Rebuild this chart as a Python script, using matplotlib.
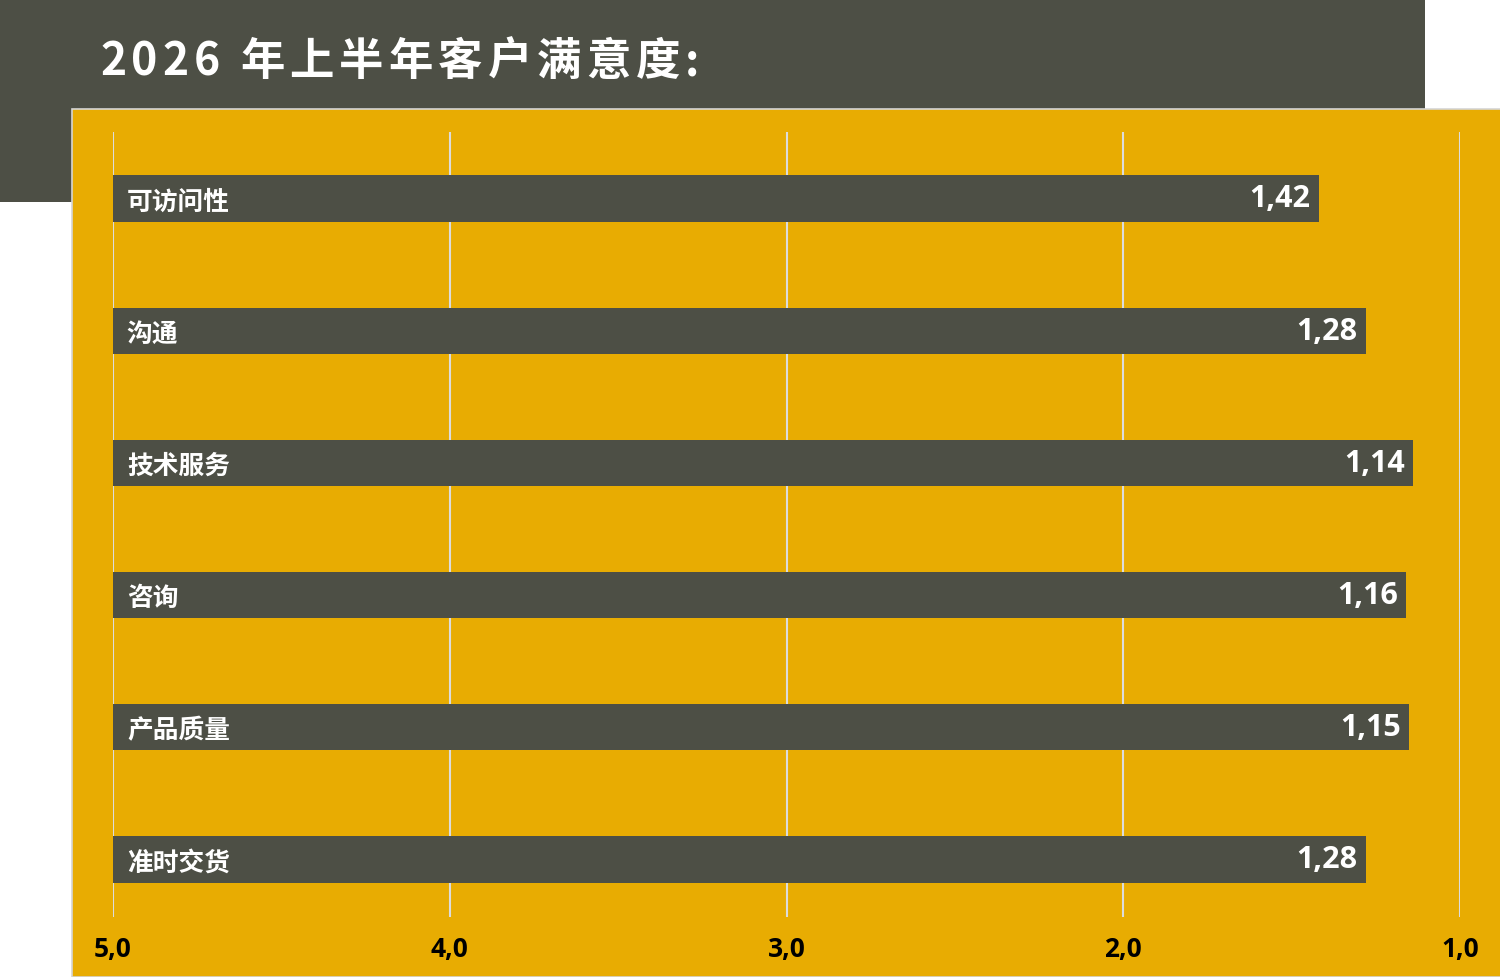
import matplotlib
matplotlib.use("Agg")
import matplotlib.pyplot as plt
from matplotlib.patches import Rectangle

# data
categories = ["可访问性", "沟通", "技术服务", "咨询", "产品质量", "准时交货"]
scores = [1.42, 1.28, 1.14, 1.16, 1.15, 1.28]
ticks = [5.0, 4.0, 3.0, 2.0, 1.0]
title = "2026 年上半年客户满意度:"

dark = "#4D4F45"
orange = "#E8AC02"
grid_c = "#DCDCDC"
cjk = ["Noto Sans CJK SC", "DejaVu Sans"]
num_font = ["Open Sans", "DejaVu Sans"]

W, H = 1500, 978
fig = plt.figure(figsize=(W / 100, H / 100), dpi=100)
fig.patch.set_facecolor("white")

# background blocks (pixel -> figure coords)
def fx(px):
    return px / W

def fy(py):
    return 1 - py / H

fig.add_artist(Rectangle((0, fy(203)), fx(1425), 203 / H, transform=fig.transFigure,
                         facecolor=dark, edgecolor="none", zorder=0))
fig.add_artist(Rectangle((fx(72), 0), fx(1500 - 72) + 0.01, fy(110), transform=fig.transFigure,
                         facecolor=orange, edgecolor="#D5D5D5", linewidth=1.2, zorder=1))

# axes
ax = fig.add_axes([fx(113), fy(918), fx(1460) - fx(113), (918 - 133) / H])
ax.set_zorder(2)
ax.patch.set_alpha(0)

y = list(range(len(categories)))
lefts = [5.0] * len(scores)
widths = [s - 5.0 for s in scores]
ax.barh(y, widths, left=lefts, height=0.35, color=dark, zorder=3)

ax.set_xlim(5.0, 1.0)
ax.set_ylim(5.435, -0.503)
ax.set_xticks(ticks)
ax.set_xticklabels([f"{t:.1f}".replace(".", ",") for t in ticks],
                   fontfamily=num_font, fontweight="bold", fontsize=19, color="black")
ax.tick_params(axis="x", length=0, pad=13)
ax.set_yticks([])
for t in ticks:
    ax.axvline(t, color=grid_c, linewidth=1.5, zorder=1)
for s in ax.spines.values():
    s.set_visible(False)

for yi, cat, val in zip(y, categories, scores):
    ax.annotate(cat, xy=(5.0, yi), xytext=(10, -2), textcoords="offset points",
                ha="left", va="center", color="white", fontsize=18.5,
                fontweight="bold", family=cjk, zorder=4)
    ax.annotate(f"{val:.2f}".replace(".", ","), xy=(val, yi), xytext=(-6, 0),
                textcoords="offset points", ha="right", va="center", color="white",
                fontsize=22, fontweight="bold", family=num_font, zorder=4)

# title with letter spacing
fig.canvas.draw()
renderer = fig.canvas.get_renderer()
x = 100
for ch in title:
    t = fig.text(fx(x), fy(62), ch, ha="left", va="center", color="white",
                 fontsize=32, fontweight="bold", family=cjk, zorder=5)
    bb = t.get_window_extent(renderer)
    x += bb.width + 5 if ch != " " else 15

fig.savefig("out.png", dpi=100)
plt.close(fig)
